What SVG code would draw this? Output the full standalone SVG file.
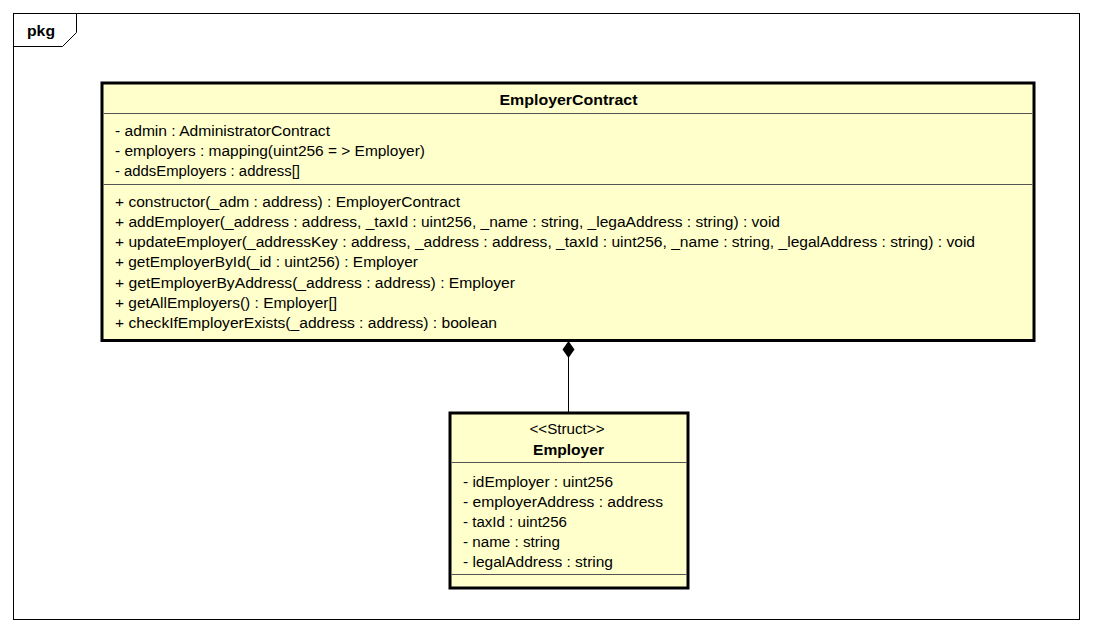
<svg xmlns="http://www.w3.org/2000/svg" width="1093" height="633" viewBox="0 0 1093 633">
<style>
text{font-family:"Liberation Sans",Arial,sans-serif;font-size:15.5px;fill:#000}
.b{font-weight:bold}
.c{text-anchor:middle}
.box{fill:#FFFFCC;stroke:#000;stroke-width:3}
.sep{stroke:#555;stroke-width:1}
</style>
<rect x="0" y="0" width="1093" height="633" fill="#fff"/>
<g id="pkg">
<rect x="13.5" y="13.5" width="1066" height="606" fill="#fff" stroke="#000" stroke-width="1"/>
<path d="M13.5 46.5 H62.5 L76.5 32.5 V13.5" fill="none" stroke="#000" stroke-width="1"/>
<text x="27" y="36" class="b" textLength="28" lengthAdjust="spacingAndGlyphs">pkg</text>
</g>
<g id="EmployerContract">
<rect class="box" x="102" y="83" width="932" height="257.5"/>
<line class="sep" x1="103.5" y1="113.5" x2="1032.5" y2="113.5"/>
<line class="sep" x1="103.5" y1="184.5" x2="1032.5" y2="184.5"/>
<text x="568.5" y="105" class="b c" textLength="138" lengthAdjust="spacingAndGlyphs">EmployerContract</text>
<text x="115" y="136" textLength="215" lengthAdjust="spacingAndGlyphs">- admin : AdministratorContract</text>
<text x="115" y="156" textLength="310" lengthAdjust="spacingAndGlyphs">- employers : mapping(uint256 = &gt; Employer)</text>
<text x="115" y="176" textLength="185" lengthAdjust="spacingAndGlyphs">- addsEmployers : address[]</text>
<text x="115" y="207" textLength="345" lengthAdjust="spacingAndGlyphs">+ constructor(_adm : address) : EmployerContract</text>
<text x="115" y="227" textLength="665" lengthAdjust="spacingAndGlyphs">+ addEmployer(_address : address, _taxId : uint256, _name : string, _legaAddress : string) : void</text>
<text x="115" y="247" textLength="860" lengthAdjust="spacingAndGlyphs">+ updateEmployer(_addressKey : address, _address : address, _taxId : uint256, _name : string, _legalAddress : string) : void</text>
<text x="115" y="267" textLength="303" lengthAdjust="spacingAndGlyphs">+ getEmployerById(_id : uint256) : Employer</text>
<text x="115" y="288" textLength="400" lengthAdjust="spacingAndGlyphs">+ getEmployerByAddress(_address : address) : Employer</text>
<text x="115" y="308" textLength="222" lengthAdjust="spacingAndGlyphs">+ getAllEmployers() : Employer[]</text>
<text x="115" y="328" textLength="382" lengthAdjust="spacingAndGlyphs">+ checkIfEmployerExists(_address : address) : boolean</text>
</g>
<g id="connectors">
<line x1="568.5" y1="357" x2="568.5" y2="412" stroke="#000" stroke-width="1"/>
<polygon points="568.5,341 574.5,349.5 568.5,358 562.5,349.5" fill="#000"/>
</g>
<g id="Employer">
<rect class="box" x="450" y="413" width="238" height="175"/>
<line class="sep" x1="451.5" y1="462.5" x2="686.5" y2="462.5"/>
<line class="sep" x1="451.5" y1="574.5" x2="686.5" y2="574.5"/>
<text x="567" y="434" class="c" textLength="75" lengthAdjust="spacingAndGlyphs">&lt;&lt;Struct&gt;&gt;</text>
<text x="568.5" y="455" class="b c" textLength="71" lengthAdjust="spacingAndGlyphs">Employer</text>
<text x="463" y="487" textLength="150" lengthAdjust="spacingAndGlyphs">- idEmployer : uint256</text>
<text x="463" y="507" textLength="200" lengthAdjust="spacingAndGlyphs">- employerAddress : address</text>
<text x="463" y="527" textLength="104" lengthAdjust="spacingAndGlyphs">- taxId : uint256</text>
<text x="463" y="547" textLength="97" lengthAdjust="spacingAndGlyphs">- name : string</text>
<text x="463" y="567" textLength="150" lengthAdjust="spacingAndGlyphs">- legalAddress : string</text>
</g>
</svg>
